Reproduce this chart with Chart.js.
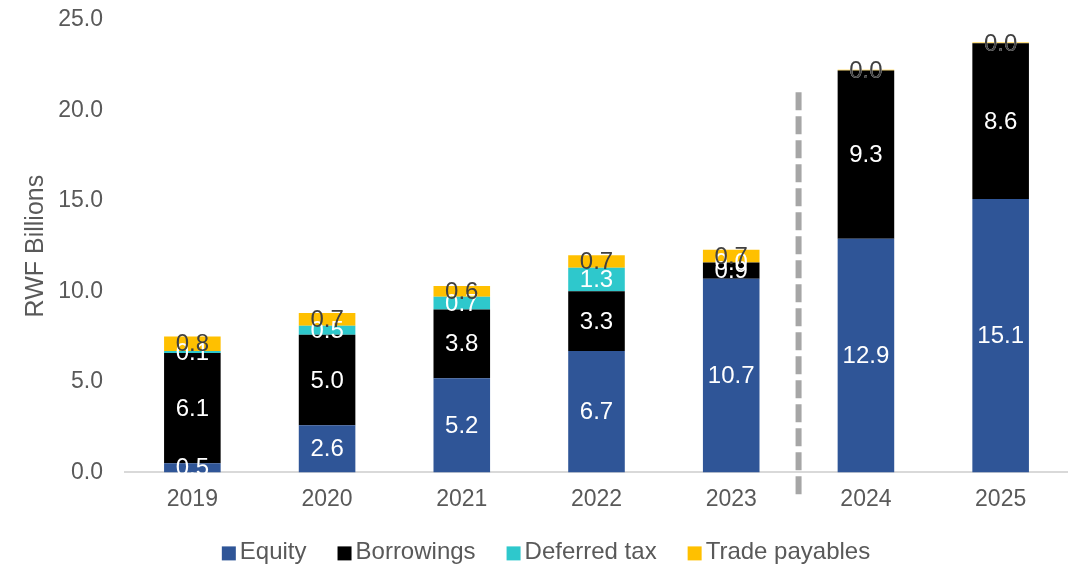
<!DOCTYPE html>
<html>
<head>
<meta charset="utf-8">
<script src="https://cdn.jsdelivr.net/npm/chart.js@4"></script>
<style>
  html, body { margin: 0; padding: 0; background: #fff; }
  body { width: 1068px; height: 566px; overflow: hidden; }
  #wrap { width: 1068px; height: 582px; margin-top: -16px; }
</style>
</head>
<body>
<div id="wrap"><canvas id="capChart"></canvas></div>
<script>
// Chart data
const years = ['2019', '2020', '2021', '2022', '2023', '2024', '2025'];
const equity = [0.5, 2.6, 5.2, 6.7, 10.7, 12.9, 15.1];
const borrowings = [6.1, 5.0, 3.8, 3.3, 0.9, 9.3, 8.6];
const deferredTax = [0.1, 0.5, 0.7, 1.3, 0.0, 0.0, 0.0];
const tradePayables = [0.8, 0.7, 0.6, 0.7, 0.7, 0.04, 0.04];
const yTicks = [0, 5, 10, 15, 20, 25];

const textGrey = '#595959';
const fontFamily = '"Liberation Sans", Arial, sans-serif';

// Draws value labels in the middle of each segment
const segmentLabels = {
    id: 'segmentLabels',
    afterDatasetsDraw(chart) {
        const ctx = chart.ctx;
        ctx.save();
        ctx.font = '24px ' + fontFamily;
        ctx.textAlign = 'center';
        ctx.textBaseline = 'middle';
        chart.data.datasets.forEach((ds, i) => {
            const meta = chart.getDatasetMeta(i);
            meta.data.forEach((bar, j) => {
                const mid = (bar.y + bar.base) / 2;
                ctx.fillStyle = ds.labelColor;
                ctx.fillText(ds.data[j].toFixed(1), bar.x, mid + 1);
            });
        });
        ctx.restore();
    }
};

// Dashed separator between actuals and forecast
const forecastLine = {
    id: 'forecastLine',
    afterDraw(chart) {
        const x = (chart.scales.x.getPixelForValue(4) + chart.scales.x.getPixelForValue(5)) / 2;
        const ctx = chart.ctx;
        ctx.save();
        ctx.strokeStyle = '#a6a6a6';
        ctx.lineWidth = 6;
        ctx.setLineDash([18, 6]);
        ctx.beginPath();
        ctx.moveTo(x, chart.scales.y.getPixelForValue(21.0));
        ctx.lineTo(x, chart.scales.y.getPixelForValue(0) + 25);
        ctx.stroke();
        ctx.restore();
    }
};

// Bottom legend with Excel-like spacing
const bottomLegend = {
    id: 'bottomLegend',
    afterDraw(chart) {
        const ctx = chart.ctx;
        const box = 14, gap = 4, itemGap = 31;
        ctx.save();
        ctx.font = '24px ' + fontFamily;
        ctx.textBaseline = 'middle';
        const items = chart.data.datasets.map(ds => ({
            text: ds.label,
            color: ds.backgroundColor,
            w: ctx.measureText(ds.label).width
        }));
        const total = items.reduce((s, it) => s + box + gap + it.w, 0) + itemGap * (items.length - 1);
        let x = chart.width / 2 + 12 - total / 2;
        const y = chart.scales.y.getPixelForValue(0) + 80;
        items.forEach(it => {
            ctx.fillStyle = it.color;
            ctx.fillRect(x, y - box / 2 + 1, box, box);
            x += box + gap;
            ctx.fillStyle = textGrey;
            ctx.fillText(it.text, x, y);
            x += it.w + itemGap;
        });
        ctx.restore();
    }
};

const ctx = document.getElementById('capChart').getContext('2d');
new Chart(ctx, {
    type: 'bar',
    data: {
        labels: years,
        datasets: [
            { label: 'Equity', data: equity, backgroundColor: '#2f5597', labelColor: '#ffffff' },
            { label: 'Borrowings', data: borrowings, backgroundColor: '#000000', labelColor: '#ffffff' },
            { label: 'Deferred tax', data: deferredTax, backgroundColor: '#2ec8cc', labelColor: '#ffffff' },
            { label: 'Trade payables', data: tradePayables, backgroundColor: '#ffc000', labelColor: '#404040' }
        ]
    },
    options: {
        responsive: true,
        maintainAspectRatio: false,
        animation: false,
        layout: { padding: { top: 0, right: 0, left: 21, bottom: 40 } },
        datasets: {
            bar: { barPercentage: 0.42, categoryPercentage: 1.0 }
        },
        plugins: {
            tooltip: { enabled: false },
            legend: { display: false }
        },
        scales: {
            x: {
                stacked: true,
                grid: { display: false, drawTicks: false },
                border: { display: true, color: '#d9d9d9', width: 2 },
                ticks: {
                    color: textGrey,
                    padding: 13,
                    font: { family: fontFamily, size: 23 }
                }
            },
            y: {
                stacked: true,
                min: 0,
                max: 25,
                afterBuildTicks(axis) {
                    axis.ticks = yTicks.map(v => ({ value: v }));
                },
                afterFit(axis) {
                    axis.width = 104;
                },
                grid: { display: false, drawTicks: false },
                border: { display: false },
                ticks: {
                    color: textGrey,
                    padding: 22,
                    font: { family: fontFamily, size: 23 },
                    callback: v => v.toFixed(1)
                },
                title: {
                    display: true,
                    text: 'RWF Billions',
                    color: textGrey,
                    padding: { top: 0, bottom: 0 },
                    font: { family: fontFamily, size: 25 }
                }
            }
        }
    },
    plugins: [segmentLabels, forecastLine, bottomLegend]
});
</script>
</body>
</html>
